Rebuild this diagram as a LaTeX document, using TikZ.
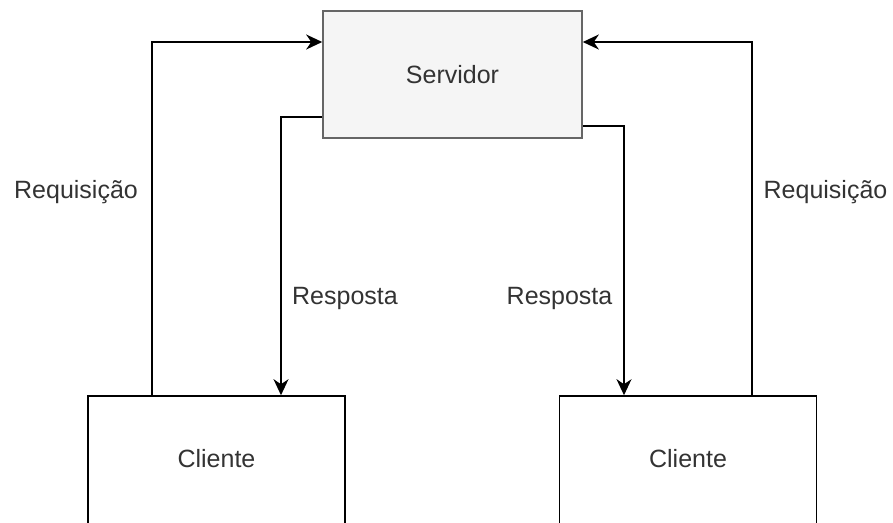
\documentclass[tikz,border=0pt]{standalone}
\usepackage{fontspec}
\setmainfont{Liberation Sans}
\usetikzlibrary{arrows.meta}
\definecolor{srvfill}{HTML}{F5F5F5}
\definecolor{srvline}{HTML}{666666}
\definecolor{txt}{HTML}{333333}
\tikzset{
  box/.style={draw, line width=1.6pt, minimum width=257pt, minimum height=127pt,
    inner sep=0pt, text=txt, font=\fontsize{25}{30}\selectfont},
  server/.style={box, fill=srvfill, draw=srvline, minimum width=259pt},
  client/.style={box, draw=black, fill=white, minimum height=160pt},
  lbl/.style={text=txt, font=\fontsize{25}{30}\selectfont, inner sep=0pt},
  arr/.style={line width=1.6pt, -{Stealth[length=16pt, width=15pt, inset=5pt]}},
}
\begin{document}
\begin{tikzpicture}[x=1pt, y=-1pt]
  \useasboundingbox (0,0) rectangle (893,522);
  \begin{scope}
    \clip (0,0) rectangle (893,522);
    % server and the two clients (clients run past the lower edge)
    \node[server] (srv) at (452.5,74.5) {Servidor};
    \node[client] (c1) at (216.5,476) {\raisebox{35pt}{Cliente}};
    \node[client] (c2) at (688,476) {\raisebox{35pt}{Cliente}};
  \end{scope}

  % requests from the clients to the server
  \draw[arr] ([xshift=-64.5pt]c1.north) |- ([yshift=32.5pt]srv.west);
  \draw[arr] ([xshift=64pt]c2.north) |- ([yshift=32.5pt]srv.east);

  % responses from the server back to the clients
  \draw[arr] ([yshift=-42.5pt]srv.west) -| ([xshift=64.5pt]c1.north);
  \draw[arr] ([yshift=-51.5pt]srv.east) -| ([xshift=-64pt]c2.north);

  % labels
  \node[lbl] (rq1) at (76,192) {Requisição};
  \node[lbl] (rq2) at (825.5,192) {Requisição};
  \node[lbl] (rs1) at (345,298) {Resposta};
  \node[lbl] (rs2) at (559.5,298) {Resposta};
\end{tikzpicture}
\end{document}
